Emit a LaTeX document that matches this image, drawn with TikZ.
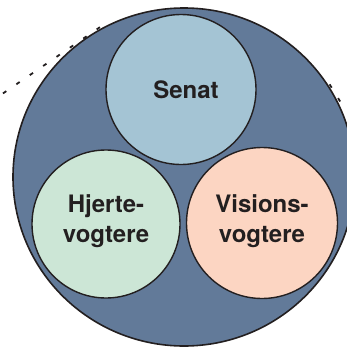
\documentclass[tikz,border=0pt]{standalone}
\usepackage{fontspec}
\setsansfont{TeX Gyre Heros}
\usetikzlibrary{shapes.geometric}

\definecolor{rammeblaa}{HTML}{627A99}
\definecolor{senatblaa}{HTML}{A4C4D4}
\definecolor{hjertegroen}{HTML}{CCE6D6}
\definecolor{visionsrosa}{HTML}{FCD5C2}
\definecolor{tekstgraa}{HTML}{231F20}

\tikzset{
  kreds/.style={circle, draw=tekstgraa, line width=1.4pt, inner sep=0, minimum size=148pt},
  etiket/.style={align=center, text=tekstgraa, inner sep=0,
    font=\sffamily\bfseries\fontsize{24}{30}\selectfont},
  stiplet/.style={draw=tekstgraa, line width=1.8pt, dash pattern=on 4pt off 12.2pt}
}

\begin{document}
\begin{tikzpicture}[x=1pt, y=-1pt]
  \useasboundingbox (0,0) rectangle (346,351);

  % dashed lines behind the big circle
  \coordinate (venstre1) at (3,93.4);
  \coordinate (venstre2) at (100.5,26.8);
  \coordinate (hoejre1) at (329.6,84.3);
  \coordinate (hoejre2) at (342,104.5);
  \draw[stiplet] (venstre1) -- (venstre2);
  \draw[stiplet] (hoejre1) -- (hoejre2);

  \node[ellipse, draw=tekstgraa, line width=1.6pt, fill=rammeblaa,
    inner sep=0, minimum width=342pt, minimum height=338pt] (ramme) at (184,177) {};

  \node[kreds, fill=senatblaa, minimum size=150pt] (senat) at (181,89.5) {};
  \node[kreds, fill=hjertegroen] (hjerte) at (106,224) {};
  \node[kreds, fill=visionsrosa, minimum size=151pt] (visions) at (262,223) {};

  \node[etiket] (senattekst) at ([xshift=5pt]senat.center) {Senat};
  \node[etiket] (hjertetekst) at ([yshift=3pt]hjerte.center) {Hjerte-\\vogtere};
  \node[etiket] (visionstekst) at ([yshift=2pt]visions.center) {Visions-\\vogtere};
\end{tikzpicture}
\end{document}
